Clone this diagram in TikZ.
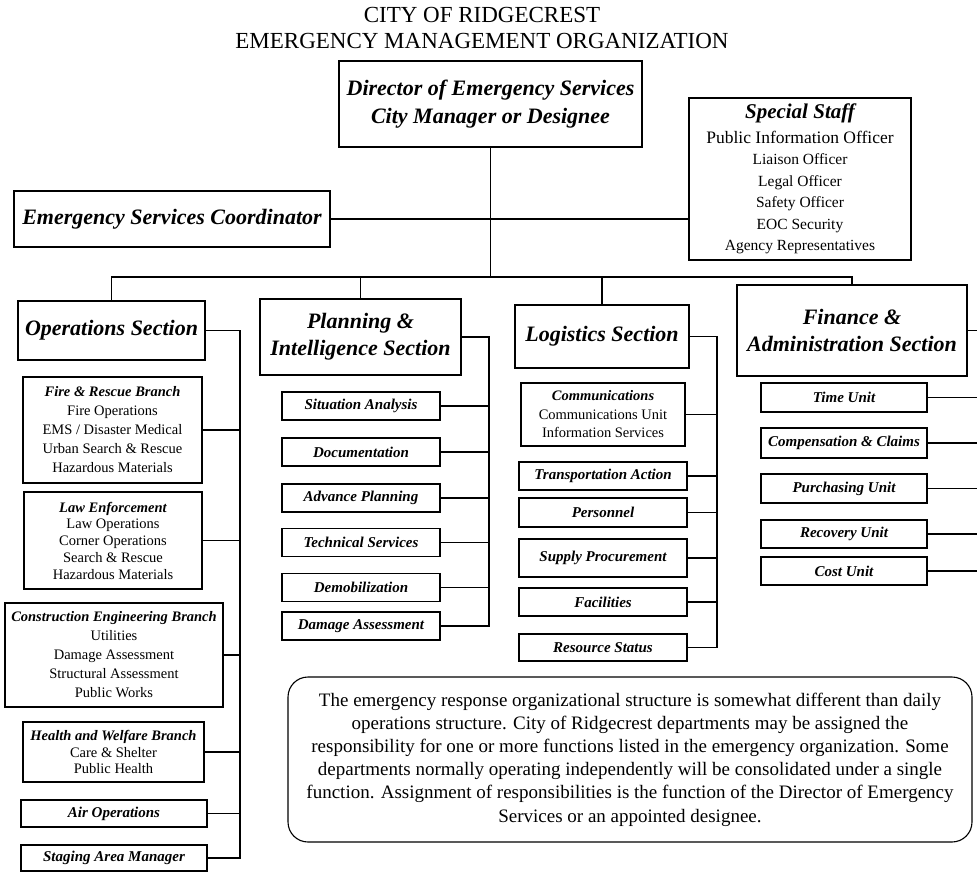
\documentclass[tikz,border=0pt]{standalone}
\usepackage{fontspec}
\setmainfont{Liberation Serif}
\newcommand{\fsize}[2]{\fontsize{#1}{#2}\selectfont}
\newcommand{\bi}[1]{{\bfseries\itshape #1}}
\tikzset{
  unit/.style={draw, line width=1.1pt, inner sep=0pt, align=center},
  wh/.style 2 args={minimum width=#1, minimum height=#2},
  sechead/.style={unit, font=\fsize{22}{27}\bfseries\itshape},
  branch/.style={unit, font=\fsize{14.5}{19}},
  task/.style={unit, wh={158}{28}, font=\fsize{15}{16}\bfseries\itshape},
  link/.style={line width=1.1pt},
  remark/.style={draw, line width=1.1pt, rounded corners=20, inner sep=0pt, align=center, font=\fsize{19}{23.2}}
}

\begin{document}
\begin{tikzpicture}[x=1pt, y=-1pt]
\useasboundingbox (0,0) rectangle (977,872);
% title
\node [font=\fsize{23}{25}, align=center] (title) at (482,28) {CITY OF RIDGECREST\\EMERGENCY MANAGEMENT ORGANIZATION};
% top level
\node [unit, wh={303}{86}, font=\fsize{22}{28}\bfseries\itshape] (dir) at (490.5,104) {Director of Emergency Services\\City Manager or Designee};
\node [unit, wh={316}{56}, font=\fsize{22}{24}\bfseries\itshape] (esc) at (172,219) {Emergency Services Coordinator};
\node [unit, wh={222}{162}, font=\fsize{15.5}{21.5}] (staff) at (800,179) {\bi{\fsize{21}{21.5}Special Staff}\\[3pt]{\fsize{17.5}{21.5}Public Information Officer}\\Liaison Officer\\Legal Officer\\Safety Officer\\EOC Security\\Agency Representatives};
\draw [link] (esc.east) -- (esc.east -| staff.west);
% sections
\node [sechead, wh={187}{59}] (ops) at (111.5,330.5) {Operations Section};
\node [sechead, wh={201}{76}] (plan) at (360.5,337) {Planning \&\\Intelligence Section};
\node [sechead, wh={174}{63}] (logi) at (602,336.5) {Logistics Section};
\node [sechead, wh={230}{91}] (fin) at (852,330.5) {Finance \&\\Administration Section};
\coordinate (bus) at (490.5,277);
\draw [link] (dir.south) -- (dir.south |- bus);
\draw [link] (ops.north) |- (bus) -| (fin.north);
\draw [link] (plan.north) -- (plan.north |- bus);
\draw [link] (logi.north) -- (logi.north |- bus);
% operations
\node [branch, wh={179}{106}] (fire) at (112.5,430) {\bi{Fire \& Rescue Branch}\\Fire Operations\\EMS / Disaster Medical\\Urban Search \& Rescue\\Hazardous Materials};
\node [branch, wh={178}{97}, font=\fsize{14.5}{16.75}] (law) at (113,540.5) {\bi{Law Enforcement}\\Law Operations\\Corner Operations\\Search \& Rescue\\Hazardous Materials};
\node [branch, wh={218}{104}] (cons) at (114,655) {\bi{Construction Engineering Branch}\\Utilities\\Damage Assessment\\Structural Assessment\\Public Works};
\node [branch, wh={181}{60}, font=\fsize{14.5}{16.5}] (health) at (113.5,752) {\bi{Health and Welfare Branch}\\Care \& Shelter\\Public Health};
\node [task, wh={186}{27}] (air) at (114,813.5) {Air Operations};
\node [task, wh={186}{26}] (stage) at (114,858) {Staging Area Manager};
\coordinate (opsv) at (240,0);
\draw [link] (ops.east) -- (ops.east -| opsv) -- (stage.east -| opsv) -- (stage.east);
\foreach \n in {fire,law,cons,health,air}
  \draw [link] (\n.east) -- (\n.east -| opsv);
% planning
\node [task] (sit) at (361,406) {Situation Analysis};
\node [task] (doc) at (361,452) {Documentation};
\node [task] (adv) at (361,498) {Advance Planning};
\node [task] (tech) at (361,542.5) {Technical Services};
\node [task] (demob) at (361,587.5) {Demobilization};
\node [task] (dmg) at (361,626) {Damage Assessment};
\coordinate (planv) at (489,0);
\draw [link] (plan.east) -- (plan.east -| planv) -- (dmg.east -| planv) -- (dmg.east);
\foreach \n in {sit,doc,adv,tech,demob}
  \draw [link] (\n.east) -- (\n.east -| planv);
% logistics
\node [branch, wh={164}{63}, font=\fsize{14.5}{18.5}] (comm) at (603,414.5) {\bi{Communications}\\Communications Unit\\Information Services};
\node [task, wh={168}{28}] (trans) at (603,476) {Transportation Action};
\node [task, wh={168}{29}] (pers) at (603,512.5) {Personnel};
\node [task, wh={168}{38}] (supply) at (603,558) {Supply Procurement};
\node [task, wh={168}{28}] (facil) at (603,602) {Facilities};
\node [task, wh={168}{27}] (status) at (603,647.5) {Resource Status};
\coordinate (logiv) at (717,0);
\draw [link] (logi.east) -- (logi.east -| logiv) -- (status.east -| logiv) -- (status.east);
\foreach \n in {comm,trans,pers,supply,facil}
  \draw [link] (\n.east) -- (\n.east -| logiv);
% finance
\node [task, wh={166}{29}] (time) at (844,397.5) {Time Unit};
\node [task, wh={166}{30}] (comp) at (844,443) {Compensation \& Claims};
\node [task, wh={166}{29}] (purch) at (844,488.5) {Purchasing Unit};
\node [task, wh={166}{28}] (recov) at (844,534) {Recovery Unit};
\node [task, wh={166}{28}] (cost) at (844,571) {Cost Unit};
\coordinate (finv) at (977,0);
\foreach \n in {fin,time,comp,purch,recov,cost}
  \draw [link] (\n.east) -- (\n.east -| finv);
% note
\node [remark, wh={684}{165}] (note) at (630,759.5) {The emergency response organizational structure is somewhat different than daily\\operations structure. City of Ridgecrest departments may be assigned the\\responsibility for one or more functions listed in the emergency organization. Some\\departments normally operating independently will be consolidated under a single\\function. Assignment of responsibilities is the function of the Director of Emergency\\Services or an appointed designee.};
\end{tikzpicture}
\end{document}
